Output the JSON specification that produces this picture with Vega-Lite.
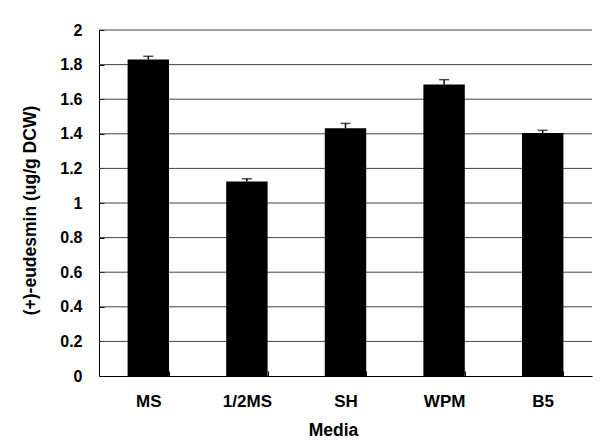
{
  "$schema": "https://vega.github.io/schema/vega-lite/v6.json",
  "autosize": "none",
  "width": 493,
  "height": 346,
  "padding": {"left": 99, "top": 30, "right": 14, "bottom": 72},
  "background": "white",
  "config": {
    "view": {"stroke": null},
    "font": "Liberation Sans",
    "axis": {
      "domainColor": "black",
      "domainWidth": 1,
      "tickColor": "black",
      "labelColor": "black",
      "titleColor": "black",
      "labelFont": "Liberation Sans",
      "titleFont": "Liberation Sans",
      "labelFontWeight": "bold",
      "titleFontWeight": "bold",
      "labelFontSize": 16,
      "titleFontSize": 17.5
    }
  },
  "data": {
    "values": [
      {"media": "MS", "value": 1.829, "upper": 1.848},
      {"media": "1/2MS", "value": 1.125, "upper": 1.14},
      {"media": "SH", "value": 1.432, "upper": 1.46},
      {"media": "WPM", "value": 1.685, "upper": 1.713},
      {"media": "B5", "value": 1.405, "upper": 1.42}
    ]
  },
  "encoding": {
    "y": {
      "field": "value",
      "type": "quantitative",
      "scale": {"domain": [0, 2]},
      "axis": {
        "title": "(+)-eudesmin (ug/g DCW)",
        "values": [0, 0.2, 0.4, 0.6, 0.8, 1, 1.2, 1.4, 1.6, 1.8, 2],
        "format": "~g",
        "grid": false,
        "tickSize": -5,
        "labelPadding": 22,
        "titleAngle": -90,
        "titleX": -69,
        "titleY": 180,
        "titleAlign": "center",
        "titleBaseline": "middle"
      }
    }
  },
  "layer": [
    {
      "data": {
        "values": [
          {"value": 0.2}, {"value": 0.4}, {"value": 0.6}, {"value": 0.8}, {"value": 1},
          {"value": 1.2}, {"value": 1.4}, {"value": 1.6}, {"value": 1.8}, {"value": 2}
        ]
      },
      "mark": {"type": "rule", "color": "#444", "strokeWidth": 1}
    },
    {
      "mark": {"type": "bar", "color": "black"},
      "encoding": {
        "x": {
          "field": "media",
          "type": "nominal",
          "sort": null,
          "scale": {"paddingInner": 0.58, "paddingOuter": 0.29},
          "axis": {
            "title": "Media",
            "labelAngle": 0,
            "labelFontSize": 17,
            "tickBand": "extent",
            "tickSize": -5,
            "labelPadding": 22,
            "titleX": 234,
            "titleY": 54,
            "titleBaseline": "middle",
            "titleAlign": "center"
          }
        }
      }
    },
    {
      "mark": {"type": "rule", "color": "black", "strokeWidth": 1.5},
      "encoding": {
        "x": {
          "field": "media",
          "type": "nominal",
          "sort": null,
          "scale": {"paddingInner": 0.58, "paddingOuter": 0.29},
          "axis": {
            "title": "Media",
            "labelAngle": 0,
            "labelFontSize": 17,
            "tickBand": "extent",
            "tickSize": -5,
            "labelPadding": 22,
            "titleX": 234,
            "titleY": 54,
            "titleBaseline": "middle",
            "titleAlign": "center"
          }
        },
        "y2": {"field": "upper"}
      }
    },
    {
      "mark": {"type": "tick", "color": "black", "thickness": 1.5, "size": 10},
      "encoding": {
        "x": {
          "field": "media",
          "type": "nominal",
          "sort": null,
          "scale": {"paddingInner": 0.58, "paddingOuter": 0.29},
          "axis": {
            "title": "Media",
            "labelAngle": 0,
            "labelFontSize": 17,
            "tickBand": "extent",
            "tickSize": -5,
            "labelPadding": 22,
            "titleX": 234,
            "titleY": 54,
            "titleBaseline": "middle",
            "titleAlign": "center"
          }
        },
        "y": {
          "field": "upper",
          "type": "quantitative",
          "axis": {
            "title": "(+)-eudesmin (ug/g DCW)",
            "values": [0, 0.2, 0.4, 0.6, 0.8, 1, 1.2, 1.4, 1.6, 1.8, 2],
            "format": "~g",
            "grid": false,
            "tickSize": -5,
            "labelPadding": 22,
            "titleAngle": -90,
            "titleX": -69,
            "titleY": 180,
            "titleAlign": "center",
            "titleBaseline": "middle"
          }
        }
      }
    }
  ]
}
